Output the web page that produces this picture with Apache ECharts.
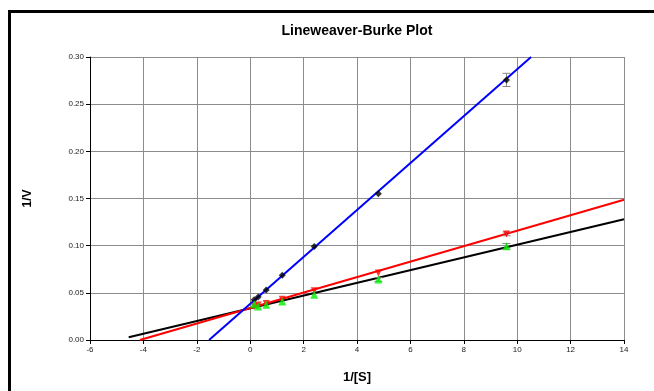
<!DOCTYPE html>
<html>
<head>
<meta charset="utf-8">
<script src="https://cdn.jsdelivr.net/npm/echarts@6/dist/echarts.min.js"></script>
<style>
  html, body { margin: 0; padding: 0; background: #fff; }
  #chart { width: 654px; height: 391px; }
</style>
</head>
<body>
<div id="chart"></div>
<script>
// 1/[S] values shared by the three data sets
const invS = [0.15, 0.3, 0.6, 1.2, 2.4, 4.8, 9.6]
// 1/V per data set
const blueV = [0.0426, 0.0457, 0.0531, 0.0687, 0.099, 0.155, 0.2757]
const redV = [0.0355, 0.037, 0.0388, 0.0433, 0.0521, 0.0711, 0.1125]
const greenV = [0.038, 0.0356, 0.0373, 0.0409, 0.0479, 0.0641, 0.0993]
// error bar half widths
const blueErr = [0, 0, 0, 0, 0.001, 0.001, 0.007]
const redErr = [0, 0, 0, 0, 0.001, 0.001, 0.002]
const greenErr = [0.001, 0.001, 0.001, 0.001, 0.001, 0.002, 0.003]
// trendline end points
const blueFit = [[-1.54, 0], [10.52, 0.30]]
const redFit = [[-4.13, 0], [14, 0.1486]]
const blackFit = [[-4.55, 0.0029], [14, 0.128]]
// axis ticks
const xTicks = [-6, 14, 2]
const yTicks = [0, 0.30, 0.05]

const pts = (xs, ys) => xs.map((x, i) => [x, ys[i]])
const errs = (xs, ys, es) => xs.map((x, i) => [x, ys[i] - es[i], ys[i] + es[i]])

function errorBar(params, api) {
  const lo = api.coord([api.value(0), api.value(1)])
  const hi = api.coord([api.value(0), api.value(2)])
  if (Math.abs(hi[1] - lo[1]) < 2) return null
  const w = 4
  const st = { stroke: '#888', lineWidth: 1 }
  return {
    type: 'group',
    children: [
      { type: 'line', shape: { x1: lo[0], y1: lo[1], x2: hi[0], y2: hi[1] }, style: st },
      { type: 'line', shape: { x1: lo[0] - w, y1: lo[1], x2: lo[0] + w, y2: lo[1] }, style: st },
      { type: 'line', shape: { x1: hi[0] - w, y1: hi[1], x2: hi[0] + w, y2: hi[1] }, style: st }
    ]
  }
}

const fitLine = (data, color) => ({
  type: 'line', data, symbol: 'none', silent: true,
  lineStyle: { color, width: 2 }, z: 2
})

const chart = echarts.init(document.getElementById('chart'))
chart.setOption({
  animation: false,
  backgroundColor: '#fff',
  textStyle: { fontFamily: 'Liberation Sans, Arial, sans-serif' },
  graphic: [{
    type: 'rect', shape: { x: 9.5, y: 11.5, width: 700, height: 420 },
    style: { fill: 'none', stroke: '#000', lineWidth: 3 }, silent: true
  }, {
    type: 'text', x: 357, y: 31, silent: true,
    style: {
      text: 'Lineweaver-Burke Plot', align: 'center', verticalAlign: 'middle',
      font: 'bold 14px "Liberation Sans", Arial, sans-serif', fill: '#000'
    }
  }],
  grid: { left: 90, right: 30, top: 57, bottom: 51 },
  xAxis: {
    type: 'value', min: xTicks[0], max: xTicks[1], interval: xTicks[2],
    name: '1/[S]', nameLocation: 'middle', nameGap: 31,
    nameTextStyle: { fontSize: 13, fontWeight: 'bold', color: '#000' },
    axisLine: { onZero: false, lineStyle: { color: '#000', width: 1 } },
    axisTick: { show: true, length: 4, lineStyle: { color: '#000' } },
    axisLabel: { fontSize: 8, color: '#222', margin: 6 },
    splitLine: { show: true, lineStyle: { color: '#8c8c8c', width: 1 } }
  },
  yAxis: {
    type: 'value', min: yTicks[0], max: yTicks[1], interval: yTicks[2],
    name: '1/V', nameLocation: 'middle', nameGap: 56,
    nameTextStyle: { fontSize: 12, fontWeight: 'bold', color: '#000' },
    axisLine: { show: true, onZero: false, lineStyle: { color: '#000', width: 1 } },
    axisTick: { show: true, length: 4, lineStyle: { color: '#000' } },
    axisLabel: { fontSize: 8, color: '#222', margin: 6, formatter: v => v.toFixed(2) },
    splitLine: { show: true, lineStyle: { color: '#8c8c8c', width: 1 } }
  },
  series: [
    fitLine(blackFit, '#000'),
    fitLine(redFit, '#ff0000'),
    fitLine(blueFit, '#0000ff'),
    { type: 'custom', renderItem: errorBar, data: errs(invS, blueV, blueErr), z: 3, silent: true },
    { type: 'custom', renderItem: errorBar, data: errs(invS, redV, redErr), z: 3, silent: true },
    { type: 'custom', renderItem: errorBar, data: errs(invS, greenV, greenErr), z: 3, silent: true },
    { type: 'scatter', data: pts(invS, blueV), symbol: 'diamond', symbolSize: 7,
      itemStyle: { color: '#000' }, z: 4 },
    { type: 'scatter', data: pts(invS, redV), symbol: 'triangle', symbolSize: 7, symbolRotate: 180,
      itemStyle: { color: '#ff0000' }, z: 4 },
    { type: 'scatter', data: pts(invS, greenV), symbol: 'triangle', symbolSize: 8,
      itemStyle: { color: '#00ee00' }, z: 5 }
  ]
})
window.addEventListener('resize', () => chart.resize())
</script>
</body>
</html>
